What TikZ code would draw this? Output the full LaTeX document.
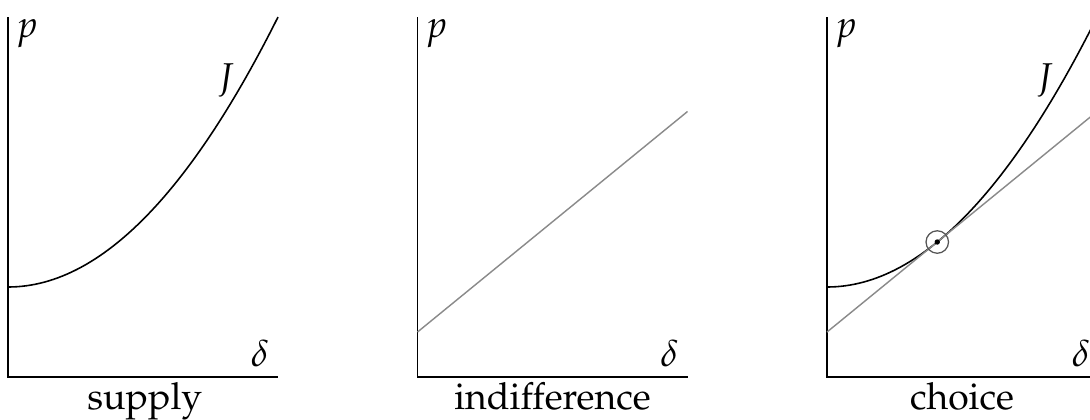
\documentclass[tikz,border=0pt]{standalone}
\usepackage[T1]{fontenc}
\usepackage{mathpazo}
\usetikzlibrary{positioning}
\definecolor{ink}{HTML}{000000}
\definecolor{slate}{HTML}{8A8A8A}
\definecolor{ring}{HTML}{555555}
\tikzset{
axis/.style={line width=.45pt,draw=ink},
cost/.style={line width=.5pt,draw=ink},
budget/.style={line width=.45pt,draw=slate},
tag/.style={inner sep=0pt,text=ink,font=\fontsize{11.8}{14}\selectfont},
caption/.style={anchor=base,inner sep=0pt,text=ink,font=\fontsize{11.8}{14}\selectfont}}

\begin{document}
\begin{tikzpicture}
\useasboundingbox (-0.089,-0.467) rectangle (12.022,4.189);
% supply
\draw[axis] (0,4)--(0,0)--(3,0);
\draw[cost] plot[domain=0:3,samples=60] (\x,{1+\x*\x/3});
\node[tag] (psupply) at (0.21,3.81) {$p$};
\node[tag] (jsupply) at (2.42,3.3) {$J$};
\node[tag] (dsupply) at (2.8,0.26) {$\delta$};
\node[caption] (supply) at (1.52,-0.36) {supply};
% indifference
\begin{scope}[xshift=4.55cm]
\draw[axis] (0,4)--(0,0)--(3,0);
\draw[budget] (0,0.5)--(3,2.95);
\node[tag] (pindiff) at (0.21,3.81) {$p$};
\node[tag] (dindiff) at (2.8,0.26) {$\delta$};
\node[caption] (indiff) at (1.5,-0.36) {indifference};
\end{scope}
% choice
\begin{scope}[xshift=9.1cm]
\draw[axis] (0,4)--(0,0)--(3,0);
\draw[cost] plot[domain=0:3,samples=60] (\x,{1+\x*\x/3});
\draw[budget] (0,0.5)--(3,2.95);
\node[draw=ring,circle,line width=.4pt,minimum size=.25cm,inner sep=0pt] (opt) at (1.2247,1.5) {};
\fill[ink] (opt.center) circle (.03);
\node[tag] (pchoice) at (0.21,3.81) {$p$};
\node[tag] (jchoice) at (2.42,3.3) {$J$};
\node[tag] (dchoice) at (2.82,0.26) {$\delta$};
\node[caption] (choice) at (1.5,-0.36) {choice};
\end{scope}
\end{tikzpicture}
\end{document}
